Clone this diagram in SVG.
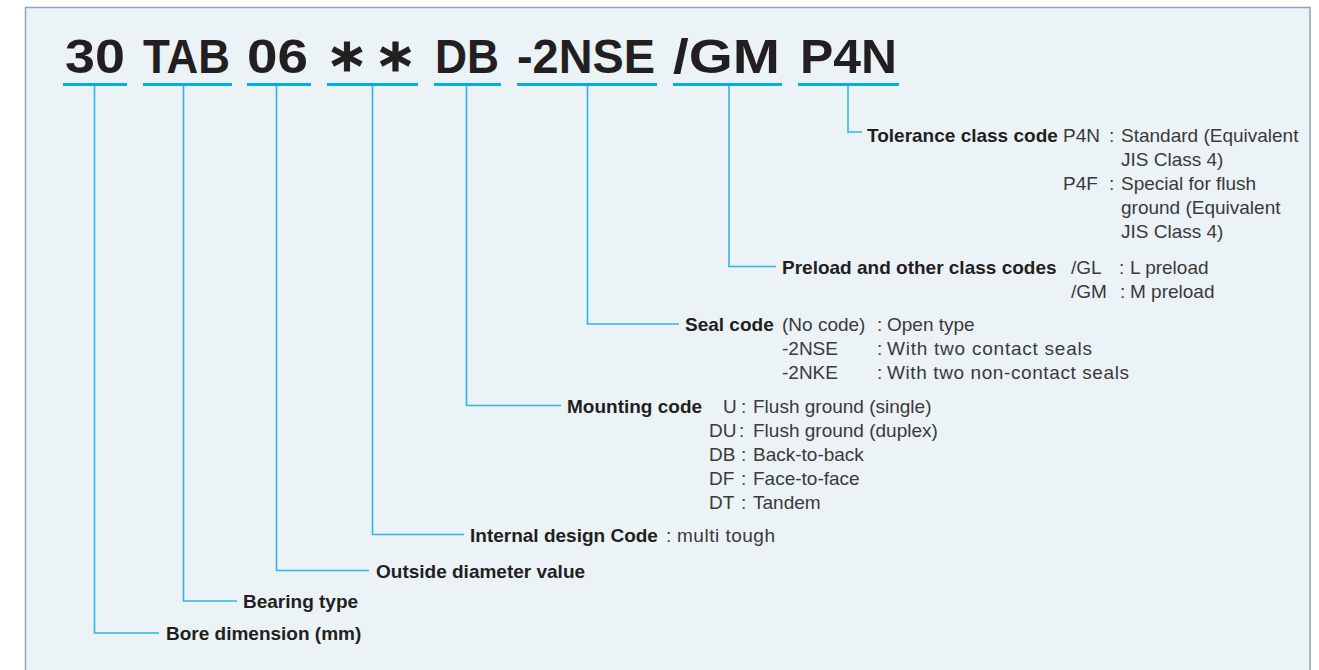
<svg xmlns="http://www.w3.org/2000/svg" width="1319" height="670" viewBox="0 0 1319 670">
<style>
.code{font-family:"Liberation Sans",Arial,sans-serif;font-weight:bold;font-size:49px;fill:#231f20}
.ast{font-family:"DejaVu Sans",sans-serif;font-weight:bold;font-size:62px;fill:#231f20;stroke:#231f20;stroke-width:1}
.ul{fill:#00aeef}
.lb{font-family:"Liberation Sans",Arial,sans-serif;font-weight:bold;font-size:19px;fill:#231f20}
.tx{font-family:"Liberation Sans",Arial,sans-serif;font-size:19px;fill:#3a3a3a}
.cn{fill:none;stroke:#2db6ea;stroke-width:1.6}
</style>
<rect x="25.5" y="7.5" width="1284.5" height="690" fill="#ebf3f6" stroke="#8ea6ba" stroke-width="1.5"/>

<g id="connectors">
<path class="cn" d="M94.5 86V633H159"/>
<path class="cn" d="M183.5 86V601H237"/>
<path class="cn" d="M276.5 86V570.5H369"/>
<path class="cn" d="M372.5 86V534.5H464"/>
<path class="cn" d="M466.5 86V405.5H561"/>
<path class="cn" d="M587.5 86V324H679"/>
<path class="cn" d="M729 86V266.5H776"/>
<path class="cn" d="M848 86V132H862"/>
</g>

<g id="code-30"><text class="code" x="65" y="73" textLength="60" lengthAdjust="spacingAndGlyphs">30</text><rect class="ul" x="63" y="83" width="64" height="3"/></g>
<g id="code-TAB"><text class="code" x="143" y="73" textLength="87" lengthAdjust="spacingAndGlyphs">TAB</text><rect class="ul" x="143" y="83" width="89" height="3"/></g>
<g id="code-06"><text class="code" x="247" y="73" textLength="61" lengthAdjust="spacingAndGlyphs">06</text><rect class="ul" x="247" y="83" width="64" height="3"/></g>
<g id="code-ast"><text class="ast" x="347 395.5" y="88" text-anchor="middle">**</text><rect class="ul" x="327" y="83" width="91" height="3"/></g>
<g id="code-DB"><text class="code" x="435" y="73" textLength="64" lengthAdjust="spacingAndGlyphs">DB</text><rect class="ul" x="434" y="83" width="67" height="3"/></g>
<g id="code-2NSE"><text class="code" x="517" y="73" textLength="138" lengthAdjust="spacingAndGlyphs">-2NSE</text><rect class="ul" x="517" y="83" width="140" height="3"/></g>
<g id="code-GM"><text class="code" x="673" y="73" textLength="107" lengthAdjust="spacingAndGlyphs">/GM</text><rect class="ul" x="673" y="83" width="109" height="3"/></g>
<g id="code-P4N"><text class="code" x="800" y="73" textLength="97" lengthAdjust="spacingAndGlyphs">P4N</text><rect class="ul" x="798" y="83" width="101" height="3"/></g>

<g id="tolerance">
<text class="lb" x="867" y="142">Tolerance class code</text>
<text class="tx" x="1063" y="142">P4N</text><text class="tx" x="1109" y="142">:</text><text class="tx" x="1121" y="142">Standard (Equivalent</text>
<text class="tx" x="1121" y="166">JIS Class 4)</text>
<text class="tx" x="1063" y="190">P4F</text><text class="tx" x="1109" y="190">:</text><text class="tx" x="1121" y="190">Special for flush</text>
<text class="tx" x="1121" y="214">ground (Equivalent</text>
<text class="tx" x="1121" y="238">JIS Class 4)</text>
</g>

<g id="preload">
<text class="lb" x="782" y="274">Preload and other class codes</text>
<text class="tx" x="1071" y="274">/GL</text><text class="tx" x="1119" y="274">:</text><text class="tx" x="1130" y="274">L preload</text>
<text class="tx" x="1071" y="298">/GM</text><text class="tx" x="1120" y="298">:</text><text class="tx" x="1130" y="298">M preload</text>
</g>

<g id="seal">
<text class="lb" x="685" y="331">Seal code</text>
<text class="tx" x="782" y="331">(No code)</text><text class="tx" x="877" y="331">:</text><text class="tx" x="887" y="331">Open type</text>
<text class="tx" x="782" y="355">-2NSE</text><text class="tx" x="877" y="355">:</text><text class="tx" x="887" y="355" textLength="205" lengthAdjust="spacing">With two contact seals</text>
<text class="tx" x="782" y="379">-2NKE</text><text class="tx" x="877" y="379">:</text><text class="tx" x="887" y="379" textLength="242" lengthAdjust="spacing">With two non-contact seals</text>
</g>

<g id="mounting">
<text class="lb" x="567" y="413">Mounting code</text>
<text class="tx" x="723" y="413">U</text><text class="tx" x="741" y="413">:</text><text class="tx" x="753" y="413">Flush ground (single)</text>
<text class="tx" x="709" y="437">DU</text><text class="tx" x="739" y="437">:</text><text class="tx" x="753" y="437">Flush ground (duplex)</text>
<text class="tx" x="709" y="461">DB</text><text class="tx" x="741" y="461">:</text><text class="tx" x="753" y="461">Back-to-back</text>
<text class="tx" x="709" y="485">DF</text><text class="tx" x="741" y="485">:</text><text class="tx" x="753" y="485">Face-to-face</text>
<text class="tx" x="709" y="509">DT</text><text class="tx" x="741" y="509">:</text><text class="tx" x="753" y="509">Tandem</text>
</g>

<g id="internal">
<text class="lb" x="470" y="542">Internal design Code</text>
<text class="tx" x="666" y="542">:</text><text class="tx" x="677" y="542" textLength="98" lengthAdjust="spacing">multi tough</text>
</g>

<g id="outside"><text class="lb" x="376" y="578">Outside diameter value</text></g>
<g id="bearing"><text class="lb" x="243" y="608">Bearing type</text></g>
<g id="bore"><text class="lb" x="166" y="640">Bore dimension (mm)</text></g>
</svg>
